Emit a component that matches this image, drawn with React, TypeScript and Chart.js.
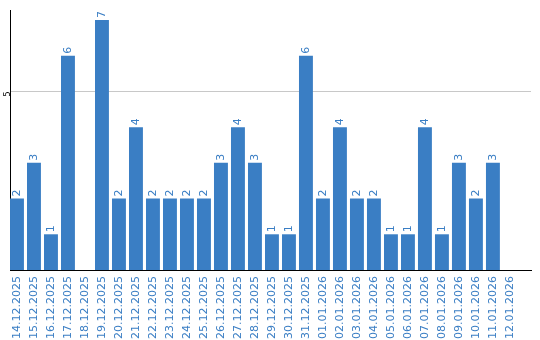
import React, { useEffect, useRef } from "react";
import { Chart, registerables } from "chart.js";

Chart.register(...registerables);

const categories: string[] = [
  "14.12.2025", "15.12.2025", "16.12.2025", "17.12.2025", "18.12.2025",
  "19.12.2025", "20.12.2025", "21.12.2025", "22.12.2025", "23.12.2025",
  "24.12.2025", "25.12.2025", "26.12.2025", "27.12.2025", "28.12.2025",
  "29.12.2025", "30.12.2025", "31.12.2025", "01.01.2026", "02.01.2026",
  "03.01.2026", "04.01.2026", "05.01.2026", "06.01.2026", "07.01.2026",
  "08.01.2026", "09.01.2026", "10.01.2026", "11.01.2026", "12.01.2026",
];

const values: number[] = [
  2, 3, 1, 6, 0, 7, 2, 4, 2, 2, 2, 2, 3, 4, 3, 1, 1, 6, 2, 4, 2, 2, 1, 1, 4, 1, 3, 2, 3, 0,
];

const yTicks: number[] = [5];
const yMax = 7.28;
const xMin = -0.41;
const xMax = 30.24;

const BLUE = "#3a7ec4";
const FONT = "'DejaVu Sans', Verdana, sans-serif";

const valueLabels = {
  id: "valueLabels",
  afterDatasetsDraw(chart: any) {
    const ctx = chart.ctx;
    const meta = chart.getDatasetMeta(0);
    ctx.save();
    ctx.fillStyle = BLUE;
    ctx.font = `11px ${FONT}`;
    ctx.textAlign = "left";
    ctx.textBaseline = "middle";
    meta.data.forEach((el: any, i: number) => {
      const v = values[i];
      if (!v) return;
      ctx.save();
      ctx.translate(el.x, el.y - 2);
      ctx.rotate(-Math.PI / 2);
      ctx.fillText(String(v), 0, 0);
      ctx.restore();
    });
    ctx.restore();
  },
};

export default function App() {
  const ref = useRef<HTMLCanvasElement | null>(null);
  useEffect(() => {
    if (!ref.current) return;
    const chart = new Chart(ref.current, {
      type: "bar",
      data: {
        datasets: [
          {
            data: values.map((v, i) => ({ x: i, y: v })),
            backgroundColor: BLUE,
            borderWidth: 0,
            barPercentage: 0.91,
            categoryPercentage: 0.9,
          },
        ],
      },
      options: {
        responsive: false,
        animation: false,
        layout: { padding: { top: 10, right: 9, left: 0, bottom: 0 } },
        plugins: { legend: { display: false }, tooltip: { enabled: false } },
        scales: {
          x: {
            type: "linear",
            min: xMin,
            max: xMax,
            offset: false,
            grid: { display: false, drawTicks: false },
            border: { display: true, color: "#000", width: 1 },
            ticks: {
              color: BLUE,
              font: { family: FONT, size: 11 },
              minRotation: 90,
              maxRotation: 90,
              autoSkip: false,
              padding: 6,
              callback: (v: any) => categories[Math.round(Number(v))] ?? "",
            },
            afterBuildTicks(scale: any) {
              scale.ticks = categories.map((_, i) => ({ value: i }));
            },
            afterFit(scale: any) {
              scale.height = 70;
            },
          },
          y: {
            min: 0,
            max: yMax,
            grid: { color: "#c8c8c8", drawTicks: false },
            border: { display: true, color: "#000", width: 1 },
            ticks: {
              color: "#000",
              font: { family: FONT, size: 8 },
              minRotation: 90,
              maxRotation: 90,
              padding: 2,
            },
            afterBuildTicks(scale: any) {
              scale.ticks = yTicks.map((v) => ({ value: v }));
            },
            afterFit(scale: any) {
              scale.width = 10;
            },
          },
        },
      },
      plugins: [valueLabels],
    });
    return () => chart.destroy();
  }, []);
  return (
    <div style={{ position: "absolute", left: 0, top: 0, width: 540, height: 340 }}>
      <canvas ref={ref} width={540} height={340} style={{ width: 540, height: 340 }} />
    </div>
  );
}
